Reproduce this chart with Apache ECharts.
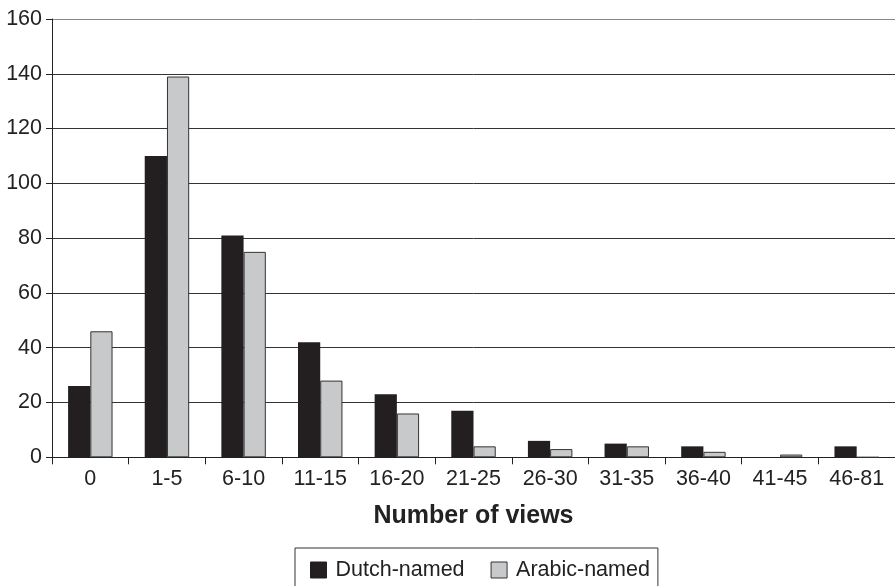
<!DOCTYPE html>
<html>
<head>
<meta charset="utf-8">
<script src="https://cdn.jsdelivr.net/npm/echarts@6/dist/echarts.min.js"></script>
<style>html,body{margin:0;padding:0;background:#fff;}#c{width:895px;height:586px;}</style>
</head>
<body>
<div id="c"></div>
<script>
const categories = ['0','1-5','6-10','11-15','16-20','21-25','26-30','31-35','36-40','41-45','46-81'];
const dutchNamed = [26,110,81,42,23,17,6,5,4,0,4];
const arabicNamed = [46,139,75,28,16,4,3,4,2,1,0];
const seriesNames = ['Dutch-named','Arabic-named'];
const axisTitle = 'Number of views';

const FONT = '"Liberation Sans", Arial, sans-serif';
const chart = echarts.init(document.getElementById('c'), null, {renderer:'canvas'});
chart.setOption({
  animation: false,
  backgroundColor: '#fff',
  grid: {left: 52, top: 19, width: 848, height: 438.3, containLabel: false},
  legend: {
    left: 295, top: 548,
    padding: [11, 8, 10, 15],
    itemWidth: 16, itemHeight: 16, itemGap: 26,
    borderColor: '#333', borderWidth: 1,
    textStyle: {fontFamily: FONT, fontSize: 21.5, color: '#222', padding: [0,0,0,4]},
    data: [
      {name: seriesNames[0], icon: 'rect', itemStyle: {color: '#231f20', borderColor: '#231f20', borderWidth: 1}},
      {name: seriesNames[1], icon: 'rect', itemStyle: {color: '#c8c9cb', borderColor: '#333', borderWidth: 1}}
    ]
  },
  xAxis: {
    type: 'category',
    data: categories,
    name: axisTitle,
    nameLocation: 'middle',
    nameGap: 46,
    nameTextStyle: {fontFamily: FONT, fontSize: 25, fontWeight: 'bold', color: '#222'},
    axisLine: {lineStyle: {color: '#222', width: 1}},
    axisTick: {show: true, length: 7, lineStyle: {color: '#222'}},
    axisLabel: {fontFamily: FONT, fontSize: 21.5, color: '#222', margin: 11, interval: 0}
  },
  yAxis: {
    type: 'value',
    min: 0, max: 160, interval: 20,
    axisLine: {show: true, lineStyle: {color: '#222', width: 1}},
    axisTick: {show: true, length: 6, lineStyle: {color: '#222'}},
    axisLabel: {fontFamily: FONT, fontSize: 21.5, color: '#222', margin: 10},
    splitLine: {show: true, lineStyle: {color: ['#333','#333','#333','#333','#333','#333','#333','#333','#888'], width: 1}}
  },
  series: [
    {
      name: seriesNames[0], type: 'bar', data: dutchNamed,
      barWidth: '29%', barGap: '0%',
      itemStyle: {color: '#231f20', borderColor: '#231f20', borderWidth: 0}
    },
    {
      name: seriesNames[1], type: 'bar', data: arabicNamed,
      barWidth: '29%', barGap: '0%',
      itemStyle: {color: '#c8c9cb', borderColor: '#333', borderWidth: 1}
    }
  ]
});
</script>
</body>
</html>
